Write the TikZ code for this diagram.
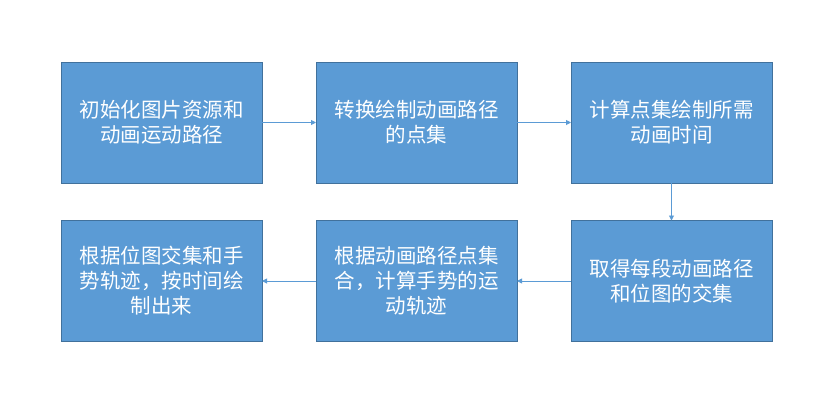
\documentclass[tikz,border=0pt]{standalone}
\usepackage{fontspec}
\newfontfamily\cjk{Noto Sans CJK SC}
\usetikzlibrary{arrows.meta}
\definecolor{boxfill}{HTML}{5B9BD5}
\definecolor{boxline}{HTML}{41719C}
\definecolor{arrowc}{HTML}{5B9BD5}
\begin{document}
\begin{tikzpicture}[x=1pt,y=-1pt,
  stepbox/.style={draw=boxline, fill=boxfill, line width=0.9pt,
    minimum width=201pt, minimum height=121pt, inner sep=0pt, outer sep=0pt,
    text=white, align=center, font=\cjk\fontsize{20.5}{25}\selectfont},
  conn/.style={draw=arrowc, line width=0.9pt, -{Triangle[length=5pt,width=5pt]}}]
\useasboundingbox (0,0) rectangle (838,413);
\fill[white] (0,0) rectangle (838,413);
\node[stepbox] (b1) at (161.5,122.5) {初始化图片资源和\\动画运动路径};
\node[stepbox] (b2) at (416.5,122.5) {转换绘制动画路径\\的点集};
\node[stepbox] (b3) at (671.5,122.5) {计算点集绘制所需\\动画时间};
\node[stepbox] (b4) at (671.5,281) {取得每段动画路径\\和位图的交集};
\node[stepbox] (b5) at (416.5,281) {根据动画路径点集\\合，计算手势的运\\动轨迹};
\node[stepbox] (b6) at (161.5,281) {根据位图交集和手\\势轨迹，按时间绘\\制出来};
\draw[conn] (b1) -- (b2);
\draw[conn] (b2) -- (b3);
\draw[conn] (b3) -- (b4);
\draw[conn] (b4) -- (b5);
\draw[conn] (b5) -- (b6);
\end{tikzpicture}
\end{document}
